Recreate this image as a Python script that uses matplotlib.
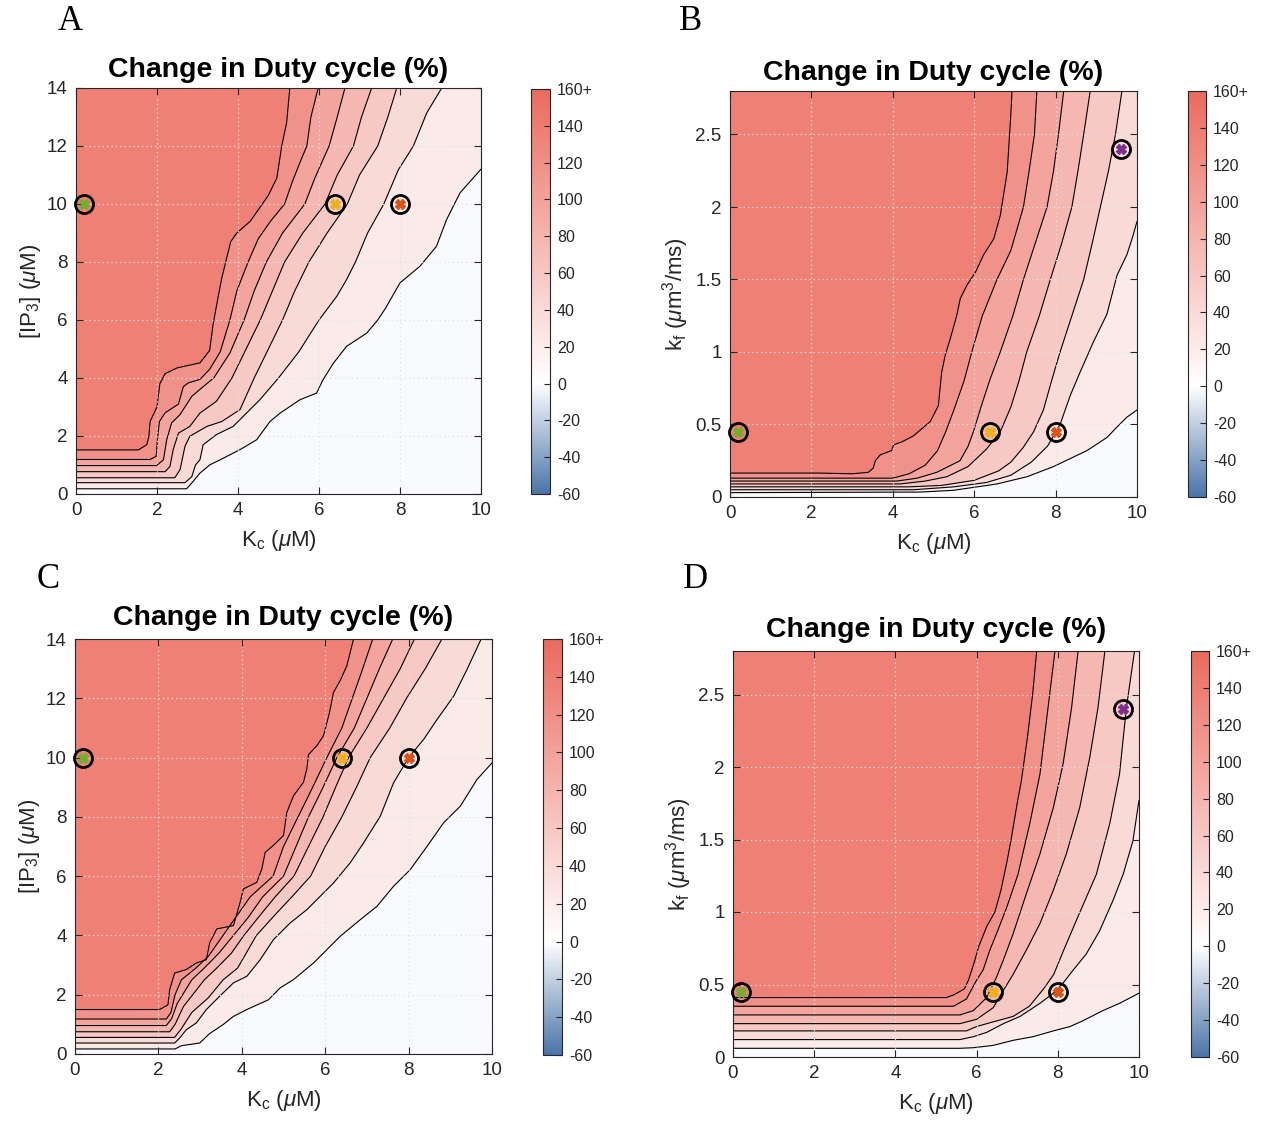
import numpy as np
import matplotlib
matplotlib.use("Agg")
import matplotlib.pyplot as plt
from matplotlib.colors import LinearSegmentedColormap, Normalize
from matplotlib.cm import ScalarMappable

plt.rcParams["font.family"] = ["Liberation Sans", "DejaVu Sans"]
plt.rcParams["mathtext.fontset"] = "custom"
plt.rcParams["mathtext.rm"] = "Liberation Sans"
plt.rcParams["mathtext.it"] = "Liberation Sans:italic"

# contour lines, highest level (innermost) first, (x, y) points
A_lines = [
    [(0, 1.52), (1.54, 1.52), (1.75, 1.7), (1.8, 2.0), (1.83, 2.5), (2.0, 3.0), (2.07, 3.8), (2.2, 4.15), (2.5, 4.35),
     (3.06, 4.52), (3.3, 4.95), (3.38, 5.8), (3.47, 6.5), (3.6, 7.45), (3.82, 8.7), (3.97, 9.0), (4.3, 9.4), (4.5, 9.8),
     (4.75, 10.3), (4.96, 10.9), (5.08, 12.0), (5.2, 12.8), (5.28, 14)],
    [(0, 1.19), (1.83, 1.19), (1.98, 1.3), (2.01, 1.87), (2.06, 2.5), (2.2, 2.8), (2.53, 3.1), (2.65, 3.7), (2.77, 3.83),
     (3.06, 3.95), (3.3, 4.3), (3.56, 4.9), (3.8, 6.0), (3.97, 7.0), (4.25, 8.0), (4.5, 8.8), (4.8, 9.4), (5.15, 10.0),
     (5.35, 10.8), (5.55, 11.5), (5.7, 12.0), (5.8, 13.0), (5.98, 14)],
    [(0, 0.98), (1.99, 0.98), (2.16, 1.18), (2.24, 1.87), (2.36, 2.45), (2.57, 2.74), (2.86, 3.37), (3.14, 3.7),
     (3.4, 4.0), (3.8, 4.86), (4.15, 6.0), (4.4, 7.0), (4.7, 8.0), (5.1, 9.0), (5.65, 10.0), (5.9, 10.9), (6.25, 12.0),
     (6.45, 13.0), (6.64, 14)],
    [(0, 0.77), (2.2, 0.77), (2.32, 0.95), (2.4, 1.53), (2.53, 2.1), (2.81, 2.33), (3.06, 2.79), (3.47, 3.2),
     (3.85, 4.0), (4.2, 5.0), (4.55, 6.0), (4.85, 7.0), (5.15, 8.0), (5.6, 9.0), (6.15, 10.0), (6.45, 11.0),
     (6.85, 12.0), (7.05, 13.0), (7.3, 14)],
    [(0, 0.56), (2.44, 0.56), (2.57, 0.84), (2.69, 1.64), (2.81, 1.99), (3.23, 2.33), (3.6, 2.5), (4.05, 2.91),
     (4.4, 4.0), (4.75, 5.0), (5.1, 6.0), (5.4, 7.0), (5.75, 8.0), (6.2, 9.0), (6.7, 10.0), (7.0, 11.0), (7.45, 12.0),
     (7.7, 13.0), (7.92, 14)],
    [(0, 0.39), (2.69, 0.39), (2.86, 0.6), (2.95, 1.0), (3.06, 1.18), (3.14, 1.7), (3.47, 2.05), (3.88, 2.33),
     (4.21, 2.79), (4.54, 3.25), (5.0, 4.0), (5.5, 4.9), (6.0, 6.0), (6.44, 6.82), (6.68, 7.39), (6.9, 8.0), (7.2, 9.0),
     (7.6, 10.0), (7.96, 11.18), (8.33, 12.0), (8.66, 13.14), (9.03, 14)],
    [(0, 0.18), (2.73, 0.18), (2.86, 0.38), (3.06, 0.72), (3.31, 1.01), (3.56, 1.18), (4.05, 1.53), (4.46, 1.87),
     (4.79, 2.5), (5.04, 2.79), (5.53, 3.25), (5.94, 3.48), (6.1, 3.94), (6.35, 4.5), (6.68, 5.09), (7.18, 5.55),
     (7.45, 6.0), (7.64, 6.4), (8.0, 7.28), (8.49, 7.85), (8.9, 8.54), (9.15, 9.46), (9.48, 10.38), (10, 11.2)],
]

B_lines = [
    [(0, 0.165), (2.2, 0.165), (3.0, 0.16), (3.4, 0.17), (3.52, 0.2), (3.57, 0.25), (3.69, 0.29), (3.97, 0.32),
     (4.02, 0.36), (4.22, 0.38), (4.5, 0.42), (4.92, 0.52), (5.12, 0.63), (5.2, 0.86), (5.29, 0.98), (5.41, 1.09),
     (5.57, 1.25), (5.66, 1.37), (5.82, 1.46), (6.03, 1.55), (6.23, 1.67), (6.48, 1.78), (6.64, 1.94), (6.81, 2.24),
     (6.89, 2.59), (6.93, 2.8)],
    [(0, 0.13), (4.0, 0.13), (4.4, 0.16), (4.8, 0.22), (5.1, 0.32), (5.3, 0.45), (5.5, 0.6), (5.75, 0.8), (5.94, 1.0),
     (6.2, 1.25), (6.56, 1.5), (6.9, 1.7), (7.21, 2.0), (7.35, 2.25), (7.48, 2.5), (7.54, 2.8)],
    [(0, 0.11), (4.1, 0.11), (4.6, 0.13), (5.08, 0.17), (5.65, 0.25), (5.85, 0.35), (5.98, 0.45), (6.2, 0.65),
     (6.4, 0.82), (6.64, 1.0), (6.95, 1.25), (7.21, 1.5), (7.5, 1.75), (7.79, 2.0), (7.95, 2.25), (8.07, 2.5), (8.2, 2.8)],
    [(0, 0.09), (4.18, 0.09), (4.8, 0.11), (5.33, 0.14), (5.85, 0.21), (6.3, 0.33), (6.64, 0.45), (6.9, 0.62),
     (7.1, 0.8), (7.29, 1.0), (7.6, 1.25), (7.87, 1.5), (8.15, 1.75), (8.4, 2.0), (8.55, 2.25), (8.69, 2.5), (8.85, 2.8)],
    [(0, 0.07), (4.4, 0.07), (5.2, 0.08), (6.0, 0.115), (6.6, 0.18), (6.9, 0.24), (7.2, 0.34), (7.46, 0.45), (7.7, 0.6),
     (7.9, 0.8), (8.11, 1.0), (8.4, 1.25), (8.69, 1.5), (8.9, 1.75), (9.1, 2.0), (9.3, 2.25), (9.47, 2.5), (9.63, 2.8)],
    [(0, 0.05), (4.5, 0.05), (5.5, 0.07), (6.3, 0.1), (6.9, 0.15), (7.4, 0.24), (7.8, 0.35), (8.11, 0.5), (8.36, 0.7),
     (8.6, 0.86), (8.93, 1.07), (9.26, 1.26), (9.51, 1.53), (9.75, 1.67), (9.9, 1.8), (10, 1.9)],
    [(0, 0.03), (4.67, 0.034), (5.49, 0.046), (6.56, 0.09), (7.3, 0.14), (7.95, 0.21), (8.77, 0.32), (9.26, 0.41),
     (9.5, 0.48), (9.75, 0.55), (10, 0.6)],
]

C_lines = [
    [(0, 1.5), (2.03, 1.5), (2.23, 1.66), (2.27, 2.17), (2.39, 2.73), (2.67, 2.85), (2.91, 3.07), (3.15, 3.18),
     (3.23, 3.75), (3.4, 4.22), (3.8, 4.33), (3.96, 5.12), (4.04, 5.57), (4.36, 5.79), (4.48, 6.24), (4.56, 6.8),
     (4.76, 7.04), (5.0, 7.37), (5.08, 8.15), (5.24, 8.71), (5.48, 9.17), (5.56, 9.62), (5.6, 10.1), (5.8, 10.4),
     (5.96, 10.74), (6.1, 11.5), (6.2, 12.2), (6.36, 12.6), (6.52, 13.1), (6.68, 14)],
    [(0, 1.18), (2.19, 1.18), (2.3, 1.4), (2.4, 2.0), (2.55, 2.5), (2.9, 2.9), (3.2, 3.3), (3.55, 4.0), (3.9, 4.7),
     (4.2, 5.3), (4.75, 6.0), (5.0, 7.0), (5.35, 8.0), (5.7, 9.0), (6.04, 10.0), (6.4, 11.0), (6.65, 12.0),
     (6.9, 13.0), (7.14, 14)],
    [(0, 0.96), (2.19, 0.96), (2.32, 1.2), (2.45, 1.7), (2.8, 2.5), (3.1, 2.9), (3.45, 3.4), (3.8, 4.0), (4.15, 4.6),
     (4.5, 5.3), (5.0, 6.0), (5.3, 7.0), (5.6, 8.0), (5.95, 9.0), (6.28, 10.0), (6.7, 11.0), (7.0, 12.0),
     (7.3, 13.0), (7.62, 14)],
    [(0, 0.75), (2.27, 0.75), (2.4, 1.0), (2.6, 1.6), (3.1, 2.5), (3.4, 2.9), (3.75, 3.4), (4.05, 4.0), (4.45, 4.7),
     (4.8, 5.3), (5.25, 6.0), (5.6, 7.0), (5.95, 8.0), (6.25, 9.0), (6.56, 10.0), (7.0, 11.0), (7.4, 12.0),
     (7.8, 13.0), (8.14, 14)],
    [(0, 0.56), (2.39, 0.56), (2.55, 0.85), (2.8, 1.4), (3.2, 1.9), (3.55, 2.5), (3.9, 2.9), (4.35, 4.0), (4.8, 4.7),
     (5.2, 5.3), (5.65, 6.0), (6.0, 7.0), (6.4, 8.0), (6.75, 9.0), (7.08, 10.0), (7.55, 11.0), (7.95, 12.0),
     (8.4, 13.0), (8.8, 14)],
    [(0, 0.37), (2.39, 0.37), (2.51, 0.54), (2.67, 0.82), (2.91, 1.05), (3.15, 1.5), (3.47, 1.95), (3.8, 2.4),
     (4.12, 2.62), (4.44, 3.18), (4.76, 3.86), (5.16, 4.42), (5.56, 4.87), (5.88, 5.32), (6.2, 5.77), (6.6, 6.45),
     (6.92, 7.12), (7.32, 8.02), (7.64, 9.15), (8.0, 10.0), (8.36, 10.61), (8.68, 11.28), (9.08, 12.07), (9.4, 12.97),
     (9.74, 14)],
    [(0, 0.17), (2.4, 0.17), (2.55, 0.28), (2.99, 0.37), (3.23, 0.69), (3.55, 0.99), (3.8, 1.27), (4.12, 1.5),
     (4.64, 1.83), (4.92, 2.23), (5.24, 2.51), (5.72, 3.07), (6.36, 3.97), (6.84, 4.53), (7.24, 4.98), (7.64, 5.66),
     (8.04, 6.22), (8.44, 7.0), (8.84, 7.8), (9.24, 8.36), (9.64, 9.26), (10, 9.82)],
]

D_lines = [
    [(0, 0.41), (5.26, 0.41), (5.45, 0.43), (5.7, 0.47), (5.8, 0.53), (5.95, 0.66), (6.05, 0.76), (6.25, 0.9),
     (6.45, 1.0), (6.6, 1.15), (6.75, 1.35), (6.85, 1.5), (7.0, 1.75), (7.1, 1.9), (7.25, 2.2), (7.38, 2.5), (7.48, 2.8)],
    [(0, 0.35), (5.43, 0.35), (5.75, 0.4), (6.0, 0.53), (6.16, 0.6), (6.33, 0.74), (6.49, 0.85), (6.74, 1.03),
     (7.02, 1.26), (7.31, 1.61), (7.56, 1.95), (7.76, 2.41), (7.93, 2.8)],
    [(0, 0.29), (5.59, 0.29), (5.92, 0.32), (6.25, 0.41), (6.49, 0.55), (6.66, 0.67), (6.9, 0.85), (7.23, 1.13),
     (7.56, 1.4), (7.89, 1.72), (8.13, 2.02), (8.34, 2.41), (8.5, 2.8)],
    [(0, 0.23), (5.59, 0.23), (6.0, 0.26), (6.41, 0.34), (6.66, 0.46), (6.9, 0.57), (7.23, 0.74), (7.56, 0.92),
     (7.89, 1.15), (8.21, 1.4), (8.54, 1.72), (8.79, 2.07), (8.99, 2.41), (9.16, 2.8)],
    [(0, 0.18), (5.75, 0.18), (6.0, 0.21), (6.25, 0.23), (6.9, 0.28), (7.3, 0.35), (7.65, 0.47), (7.9, 0.57),
     (8.15, 0.74), (8.5, 0.97), (8.95, 1.26), (9.28, 1.61), (9.52, 1.95), (9.69, 2.41), (9.89, 2.8)],
    [(0, 0.12), (5.59, 0.12), (5.92, 0.14), (6.25, 0.17), (6.66, 0.23), (7.07, 0.28), (7.56, 0.37), (7.89, 0.44),
     (8.13, 0.51), (8.38, 0.6), (8.7, 0.71), (9.03, 0.87), (9.36, 1.08), (9.61, 1.26), (9.85, 1.49), (10, 1.77)],
    [(0, 0.06), (5.59, 0.06), (5.92, 0.064), (6.41, 0.08), (6.9, 0.115), (7.39, 0.14), (7.89, 0.18), (8.3, 0.21),
     (8.62, 0.25), (9.11, 0.32), (9.52, 0.37), (10, 0.44)],
]

# parameter sets marked on each panel
ip3_marks_x = [0.2, 6.4, 8.0]
ip3_marks_y = [10, 10, 10]
kf_marks_x = [0.2, 6.4, 8.0, 9.6]
kf_marks_y = [0.45, 0.45, 0.45, 2.4]
mark_colors = ["#77AC30", "#EDB120", "#D95319", "#7E2F8E"]

cbar_ticks = [-60, -40, -20, 0, 20, 40, 60, 80, 100, 120, 140, 160]
cbar_labels = ["-60", "-40", "-20", "0", "20", "40", "60", "80", "100", "120", "140", "160+"]

# band fills from lowest band (below outer line) to highest
band_colors = ["#F9FAFD", "#FAEAE8", "#F8DAD7", "#F6C9C5", "#F4B7B1", "#F3A49D", "#F1928A", "#EF8076"]

W, H = 1261, 1122
fig = plt.figure(figsize=(W / 100, H / 100), dpi=100)

cmap = LinearSegmentedColormap.from_list(
    "dc", [(0.0, "#4A74A8"), (60 / 220, "#FFFFFF"), (1.0, "#EB6A5E")])
norm = Normalize(-60, 160)


def rect(l, t, r, b):
    return [l / W, 1 - b / H, (r - l) / W, (b - t) / H]


def panel(ax_box, cb_box, lines, ymax, yticks, ytl, ylabel, mx, my, letter, letter_xy, title_pad):
    ax = fig.add_axes(rect(*ax_box))
    ax.set_facecolor(band_colors[0])
    for k, ln in enumerate(reversed(lines)):
        xs = [p[0] for p in ln]
        ys = [p[1] for p in ln]
        px, py = list(xs), list(ys)
        if xs[-1] >= 10 and ys[-1] < ymax:
            px.append(10)
            py.append(ymax)
        px.append(0)
        py.append(ymax)
        ax.fill(px, py, color=band_colors[k + 1], lw=0, zorder=1)
    for ln in lines:
        ax.plot([p[0] for p in ln], [p[1] for p in ln], color="black", lw=0.8, zorder=2)
    ax.set_xlim(0, 10)
    ax.set_ylim(0, ymax)
    ax.set_xticks(range(0, 11, 2))
    ax.set_yticks(yticks)
    ax.set_yticklabels(ytl)
    ax.grid(True, ls=(0, (1, 2.5)), color="#e2e2e2", lw=0.9, zorder=3)
    ax.set_axisbelow(False)
    ax.tick_params(direction="in", length=5, width=0.8, top=True, right=True, labelsize=13.5,
                   colors="#262626", pad=6)
    for s in ax.spines.values():
        s.set_color("#262626")
        s.set_linewidth(0.8)
        s.set_zorder(5)
    for i in range(len(mx)):
        ax.plot(mx[i], my[i], "o", ms=13, mfc="none", mec="black", mew=2.0, zorder=6, clip_on=False)
        ax.plot(mx[i], my[i], "X", ms=7, color=mark_colors[i], mec=mark_colors[i], zorder=7, clip_on=False)
    ax.set_xlabel(r"K$_\mathrm{c}$ ($\mu$M)", fontsize=16, color="#262626", labelpad=6)
    ax.set_ylabel(ylabel, fontsize=16, color="#262626", labelpad=3)
    ax.set_title("Change in Duty cycle (%)", fontsize=20.5, fontweight="bold", pad=title_pad)

    cax = fig.add_axes(rect(*cb_box))
    cb = fig.colorbar(ScalarMappable(norm=norm, cmap=cmap), cax=cax)
    cb.set_ticks(cbar_ticks)
    cb.set_ticklabels(cbar_labels)
    cb.ax.tick_params(direction="in", length=4, width=0.8, labelsize=11.5, colors="#262626", pad=5)
    cb.outline.set_edgecolor("#262626")
    cb.outline.set_linewidth(0.8)
    fig.text(letter_xy[0] / W, 1 - letter_xy[1] / H, letter, fontsize=25, family="Liberation Serif",
             ha="center", va="center")
    return ax


ip3_label = r"[IP$_3$] ($\mu$M)"
kf_label = r"k$_\mathrm{f}$ ($\mu$m$^3$/ms)"
ip3_ticks = list(range(0, 15, 2))
kf_ticks = [0, 0.5, 1, 1.5, 2, 2.5]
kf_tl = ["0", "0.5", "1", "1.5", "2", "2.5"]

panel((76, 88, 481, 494), (531, 89, 550, 494), A_lines, 14, ip3_ticks, [str(t) for t in ip3_ticks], ip3_label,
      ip3_marks_x, ip3_marks_y, "A", (70, 21), 8)
panel((730, 91, 1137, 497), (1188, 91, 1206, 497), B_lines, 2.8, kf_ticks, kf_tl, kf_label,
      kf_marks_x, kf_marks_y, "B", (691, 21), 8)
panel((75, 639, 492, 1054), (543, 639, 562, 1055), C_lines, 14, ip3_ticks, [str(t) for t in ip3_ticks], ip3_label,
      ip3_marks_x, ip3_marks_y, "C", (48, 579), 10)
panel((733, 651, 1139, 1057), (1191, 651, 1209, 1057), D_lines, 2.8, kf_ticks, kf_tl, kf_label,
      kf_marks_x, kf_marks_y, "D", (695, 579), 10)

fig.savefig("out.png", dpi=100, facecolor="white")
